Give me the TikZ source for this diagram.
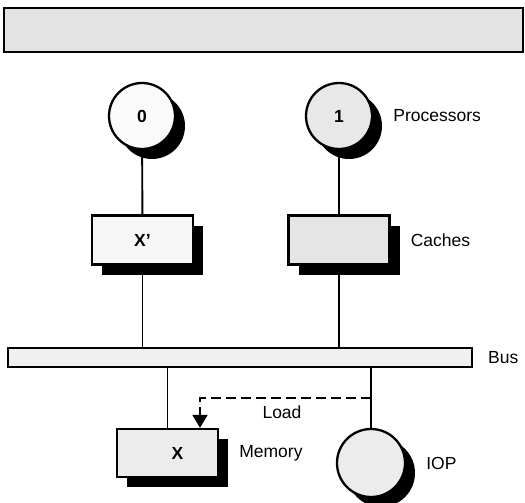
\documentclass[tikz,border=0pt]{standalone}
\usepackage{fontspec}
\setmainfont{Liberation Sans}
\usepackage{tikz}
\usetikzlibrary{arrows.meta,positioning,shadows}

\begin{document}
\begin{tikzpicture}[
    x=1pt, y=-1pt,
    node distance=20pt,
    font=\fontsize{17.5}{20}\selectfont,
    unit/.style={draw, line width=2.3pt, inner sep=0pt, font=\fontsize{17.5}{20}\selectfont\bfseries,
                 drop shadow={shadow xshift=10pt, shadow yshift=-10pt, fill=black, opacity=1}},
    proc/.style={unit, circle, minimum size=66pt},
    cachebox/.style={unit, rectangle, minimum width=101pt, minimum height=49pt},
    tag/.style={inner sep=0pt},
    wire/.style={line width=1.9pt},
    load/.style={line width=1.9pt, dash pattern=on 10pt off 5pt,
                 -{Triangle[length=13pt,width=15pt]}}
]
\useasboundingbox (0,0) rectangle (525,503);
\node[draw, line width=1.3pt, fill=gray!22, inner sep=0pt,
      minimum width=519pt, minimum height=44pt] (banner) at (263.5,30) {};
% processors and caches
\node[proc, fill=gray!4] (proc0) at (142,116) {0};
\node[proc, fill=gray!18] (proc1) at (339,116) {1};
\node[tag, right=of proc1] (proclbl) {Processors};
\node[cachebox, fill=gray!6] (cache0) at (142.5,240) {X'};
\node[cachebox, fill=gray!20] (cache1) at (339,240) {};
\node[tag, right=of cache1] (cachelbl) {Caches};
% bus
\node[draw, line width=1.9pt, fill=gray!12, inner sep=0pt,
      minimum width=464pt, minimum height=19pt] (bus) at (240,357.5) {};
\node[tag, right=15pt of bus] (buslbl) {Bus};
% memory and IOP
\node[cachebox, fill=gray!15, minimum height=48pt,
      label={[xshift=10pt, font=\fontsize{17.5}{20}\selectfont\bfseries]center:X}] (mem) at (167.5,453) {};
\node[tag, right=of mem] (memlbl) {Memory};
\node[proc, fill=gray!15, minimum size=68pt] (iop) at (371,463) {};
\node[tag, right=of iop] (ioplbl) {IOP};
\node[tag] (loadlbl) at (282,412) {Load};
\coordinate (tap) at (371,398);
\draw[wire] (proc0) -- (cache0);
\draw[wire] (proc1) -- (cache1);
\draw[wire] (cache0.south) -- (cache0.south |- bus.north);
\draw[wire] (cache1.south) -- (cache1.south |- bus.north);
\draw[wire] (mem.north) -- (mem.north |- bus.south);
\draw[wire] (iop.north) -- (iop.north |- bus.south);
\draw[load] (tap) -| ([xshift=32.5pt]mem.north);
\end{tikzpicture}
\end{document}
